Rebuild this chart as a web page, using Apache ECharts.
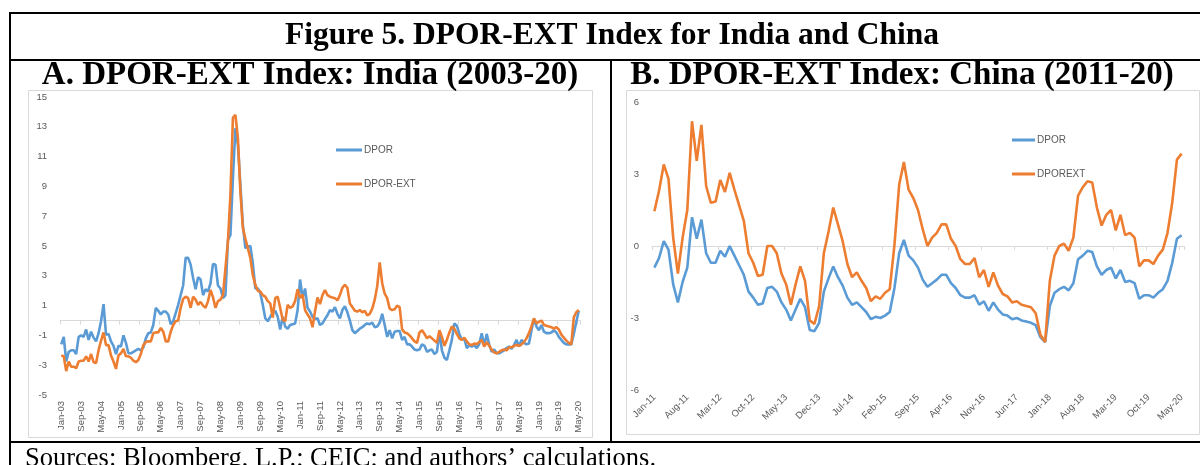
<!DOCTYPE html>
<html style="height: 100%">
<head>
<meta charset="utf-8">
<script src="https://cdn.jsdelivr.net/npm/echarts@6/dist/echarts.min.js"></script>
</head>
<body style="height: 100%; margin: 0; background: #fff">
<div id="container" style="width: 1200px; height: 465px"></div>
<script type="text/javascript">
var MONTHS = ['Jan','Feb','Mar','Apr','May','Jun','Jul','Aug','Sep','Oct','Nov','Dec'];

// India, monthly Jan-03 .. May-20
var indiaDpor = [
  -1.6,-1.1,-2.75,-2.1,-2.0,-2.0,-2.25,-1.1,-1.0,-1.1,-0.6,-1.3,
  -0.75,-1.15,-1.4,-0.85,-0.05,1.1,-0.95,-0.9,-1.4,-1.7,-2.25,-1.7,
  -1.75,-1.0,-1.5,-2.2,-2.2,-2.1,-2.0,-1.9,-2.0,-1.8,-1.2,-0.85,
  -0.8,-0.3,0.85,0.65,0.4,0.6,0.6,0.4,-0.25,-0.05,0.5,1.05,
  1.7,2.35,4.2,4.2,3.75,2.85,2.1,2.9,2.75,1.7,2.1,1.95,
  2.5,3.8,3.75,2.35,2.15,1.5,1.7,5.4,5.75,9.55,12.9,11.8,
  9.1,6.4,4.85,4.95,5.0,3.85,2.15,2.15,1.85,1.05,0.15,-0.05,
  0.25,0.5,0.65,0.25,-0.6,0.25,-0.4,-0.55,-0.3,-0.25,-0.2,0.7,
  2.75,1.5,2.15,0.85,0.6,0.25,0.1,0.15,-0.3,-0.2,0.1,0.35,
  0.7,0.6,0.9,0.45,0.15,0.7,0.95,0.55,0.0,-0.65,-0.85,-0.7,
  -0.55,-0.45,-0.3,-0.2,-0.25,-0.15,-0.45,-0.4,-0.15,0.45,-0.3,-1.1,
  -0.65,-1.2,-0.75,-0.7,-0.7,-1.3,-1.1,-1.6,-1.6,-1.75,-1.95,-2.0,
  -1.95,-1.6,-1.7,-2.1,-2.0,-1.95,-2.25,-2.1,-0.8,-2.0,-2.5,-2.65,
  -2.0,-1.3,-0.2,-0.35,-0.9,-1.3,-1.2,-1.85,-1.65,-1.75,-1.65,-1.85,
  -1.6,-0.85,-1.7,-0.9,-1.6,-2.1,-1.95,-2.2,-2.2,-2.1,-2.0,-1.85,
  -1.75,-1.9,-1.65,-1.3,-1.75,-1.3,-1.5,-1.6,-1.55,-0.65,0.1,-0.4,
  -0.65,-0.3,-0.75,-0.85,-0.85,-0.8,-0.65,-0.8,-1.1,-1.3,-1.5,-1.6,
  -1.6,-1.6,-0.9,-0.1,0.65
];
var indiaDporExt = [
  -2.35,-2.4,-3.4,-2.75,-3.1,-3.1,-3.2,-2.75,-2.7,-2.7,-2.4,-2.75,
  -2.25,-2.8,-2.85,-2.0,-1.35,-0.8,-1.65,-1.65,-2.35,-2.75,-3.25,-2.35,
  -2.2,-1.9,-2.4,-2.4,-2.5,-2.7,-2.8,-2.65,-2.25,-1.65,-1.45,-1.4,
  -1.4,-0.85,-0.8,-0.8,-0.5,-0.75,-1.4,-1.4,-0.75,-0.3,-0.05,0.0,
  0.85,1.45,1.6,1.5,0.85,1.6,1.4,1.05,1.25,1.0,0.85,1.3,
  2.05,1.55,0.85,1.3,1.4,1.7,3.5,5.3,8.45,13.6,13.8,12.25,
  8.65,6.2,5.5,4.85,4.2,3.05,2.4,2.0,1.95,1.7,1.6,1.3,
  1.15,0.2,1.5,1.6,0.85,0.05,-0.05,1.05,0.85,0.95,1.3,2.1,
  1.5,1.75,0.7,0.4,0.15,-0.45,0.6,1.55,1.1,1.7,2.05,1.7,
  1.6,1.55,1.5,1.35,1.7,2.2,2.4,2.2,1.15,0.9,0.65,0.6,
  0.7,0.55,0.65,0.35,0.45,0.8,1.4,2.3,3.9,2.5,1.8,1.5,
  0.8,0.7,0.75,1.0,0.9,-0.6,-0.8,-0.85,-1.0,-1.2,-1.4,-1.5,
  -0.8,-0.65,-0.9,-1.2,-1.05,-1.2,-1.35,-1.5,-0.65,-1.1,-1.7,-1.3,
  -0.8,-0.4,-0.55,-0.9,-1.2,-1.3,-1.15,-1.4,-1.6,-1.65,-1.55,-1.6,
  -1.45,-1.3,-1.75,-1.45,-1.7,-1.95,-2.15,-2.2,-2.1,-2.0,-1.95,-2.0,
  -1.8,-1.8,-1.7,-1.65,-1.7,-1.6,-1.45,-1.2,-0.85,-0.4,0.15,-0.2,
  -0.1,0.0,-0.3,-0.35,-0.4,-0.45,-0.55,-0.45,-0.6,-0.95,-1.15,-1.35,
  -1.5,-1.6,0.2,0.55,0.7
];

// China, monthly Jan-11 .. May-20
var chinaDpor = [
  -0.9,-0.5,0.2,-0.15,-1.6,-2.35,-1.5,-0.9,1.2,0.3,1.1,-0.3,
  -0.7,-0.7,-0.2,-0.45,0.0,-0.4,-0.8,-1.2,-1.9,-2.15,-2.45,-2.4,
  -1.75,-1.7,-1.9,-2.35,-2.65,-3.1,-2.65,-2.2,-2.55,-3.5,-3.55,-3.2,
  -1.9,-1.35,-0.85,-1.3,-1.65,-2.15,-2.45,-2.35,-2.55,-2.75,-3.05,-2.95,
  -3.0,-2.9,-2.75,-1.75,-0.3,0.25,-0.4,-0.6,-0.9,-1.4,-1.7,-1.55,
  -1.4,-1.2,-1.2,-1.55,-1.75,-2.05,-2.15,-2.15,-2.05,-2.45,-2.3,-2.7,
  -2.35,-2.65,-2.85,-2.9,-3.05,-3.0,-3.1,-3.15,-3.2,-3.3,-3.8,-4.0,
  -2.5,-1.95,-1.8,-1.7,-1.85,-1.55,-0.55,-0.4,-0.2,-0.25,-0.85,-1.2,
  -1.0,-0.9,-1.35,-1.0,-1.5,-1.45,-1.55,-2.2,-2.05,-2.05,-2.15,-1.95,
  -1.8,-1.45,-0.7,0.3,0.45
];
var chinaDporExt = [
  1.45,2.3,3.4,2.8,0.35,-1.15,0.35,1.5,5.2,3.55,5.05,2.5,
  1.8,1.85,2.75,2.25,3.05,2.35,1.7,1.05,-0.3,-0.7,-1.25,-1.2,
  0.0,0.0,-0.3,-1.15,-1.6,-2.45,-1.6,-0.85,-1.45,-3.1,-3.25,-2.5,
  -0.3,0.6,1.6,0.9,0.2,-0.75,-1.3,-1.1,-1.45,-1.75,-2.3,-2.1,
  -2.2,-1.95,-1.8,0.05,2.55,3.5,2.35,2.0,1.5,0.7,0.0,0.35,
  0.55,0.9,0.9,0.3,0.0,-0.55,-0.75,-0.75,-0.5,-1.3,-1.0,-1.7,
  -1.1,-1.65,-2.0,-2.1,-2.35,-2.3,-2.45,-2.5,-2.55,-2.8,-3.7,-4.0,
  -1.45,-0.4,0.0,0.1,-0.2,0.35,2.1,2.45,2.7,2.65,1.6,0.85,
  1.3,1.5,0.65,1.3,0.45,0.55,0.35,-0.85,-0.6,-0.6,-0.75,-0.4,
  -0.15,0.55,1.8,3.6,3.85
];

var indiaYTicks = {min: -5, max: 15, interval: 2};
var chinaYTicks = {min: -6, max: 6, interval: 3};

function monthLabels(startYear, count) {
  var out = [];
  for (var i = 0; i < count; i++) {
    var y = startYear + Math.floor(i / 12);
    out.push(MONTHS[i % 12] + '-' + String(y % 100).padStart(2, '0'));
  }
  return out;
}
var indiaCats = monthLabels(2003, indiaDpor.length);
var chinaCats = monthLabels(2011, chinaDpor.length);

var BLUE = '#5B9BD5', ORANGE = '#ED7D31', GREY = '#595959', FRAME = '#d9d9d9';
var SERIF = '"Liberation Serif", "Times New Roman", serif';
var SANS = '"Liberation Sans", Arial, sans-serif';

function labelAxis(grid, cats, every, rotate) {
  return {
    type: 'category', gridIndex: grid, data: cats, position: 'bottom',
    axisLine: {show: false, onZero: false}, axisTick: {show: false},
    axisLabel: {interval: every - 1, rotate: rotate, color: GREY, fontSize: 9.5,
                fontFamily: SANS, margin: 6}
  };
}
function zeroAxis(grid, cats, every) {
  return {
    type: 'category', gridIndex: grid, data: cats, position: 'bottom',
    axisLine: {show: true, onZero: true, lineStyle: {color: FRAME, width: 1}},
    axisTick: {show: true, interval: every - 1, length: 4, lineStyle: {color: FRAME}},
    axisLabel: {show: false}
  };
}
function valueAxis(grid, t) {
  return {
    type: 'value', gridIndex: grid, min: t.min, max: t.max, interval: t.interval,
    axisLine: {show: false}, axisTick: {show: false}, splitLine: {show: false},
    axisLabel: {color: GREY, fontSize: 9.5, fontFamily: SANS, margin: 13}
  };
}
function lineSeries(name, data, color, xi, yi) {
  return {
    name: name, type: 'line', data: data, xAxisIndex: xi, yAxisIndex: yi,
    showSymbol: false, symbol: 'none', color: color,
    lineStyle: {width: 2.6, color: color}, itemStyle: {color: color}
  };
}

var chart = echarts.init(document.getElementById('container'), null, {renderer: 'canvas'});
var option = {
  animation: false,
  backgroundColor: '#fff',
  grid: [
    {left: 60, top: 97, width: 520, height: 298, outerBoundsMode: 'none'},
    {left: 652, top: 102, width: 532, height: 288, outerBoundsMode: 'none'}
  ],
  xAxis: [
    labelAxis(0, indiaCats, 8, 90),
    zeroAxis(0, indiaCats, 8),
    labelAxis(1, chinaCats, 7, 45),
    zeroAxis(1, chinaCats, 7)
  ],
  yAxis: [valueAxis(0, indiaYTicks), valueAxis(1, chinaYTicks)],
  legend: [
    {data: ['DPOR', 'DPOR-EXT'], orient: 'vertical', left: 331, top: 140,
     icon: 'rect', itemWidth: 26, itemHeight: 3, itemGap: 24, selectedMode: false,
     textStyle: {color: GREY, fontSize: 10, fontFamily: SANS, padding: [0, 0, 0, -3]}},
    {data: ['DPOR', 'DPOREXT'], orient: 'vertical', left: 1007, top: 130,
     icon: 'rect', itemWidth: 23, itemHeight: 3, itemGap: 24, selectedMode: false,
     textStyle: {color: GREY, fontSize: 10, fontFamily: SANS, padding: [0, 0, 0, -3]}}
  ],
  series: [
    lineSeries('DPOR', indiaDpor, BLUE, 0, 0),
    lineSeries('DPOR-EXT', indiaDporExt, ORANGE, 0, 0),
    lineSeries('DPOR', chinaDpor, BLUE, 2, 1),
    lineSeries('DPOREXT', chinaDporExt, ORANGE, 2, 1)
  ],
  graphic: [
    // chart area borders
    {type: 'rect', shape: {x: 28.5, y: 90.5, width: 564, height: 347}, style: {fill: null, stroke: FRAME, lineWidth: 1}, silent: true},
    {type: 'rect', shape: {x: 626.5, y: 90.5, width: 573, height: 344}, style: {fill: null, stroke: FRAME, lineWidth: 1}, silent: true},
    // black frame
    {type: 'line', shape: {x1: 9, y1: 13, x2: 1200, y2: 13}, style: {stroke: '#000', lineWidth: 2}, silent: true},
    {type: 'line', shape: {x1: 9, y1: 60, x2: 1200, y2: 60}, style: {stroke: '#000', lineWidth: 2}, silent: true},
    {type: 'line', shape: {x1: 10, y1: 12, x2: 10, y2: 465}, style: {stroke: '#000', lineWidth: 2}, silent: true},
    {type: 'line', shape: {x1: 611, y1: 60, x2: 611, y2: 442}, style: {stroke: '#000', lineWidth: 2}, silent: true},
    {type: 'line', shape: {x1: 9, y1: 442, x2: 1200, y2: 442}, style: {stroke: '#000', lineWidth: 2}, silent: true},
    // texts
    {type: 'text', x: 612, y: 36, silent: true,
     style: {text: 'Figure 5. DPOR-EXT Index for India and China', fill: '#000', fontSize: 31.5,
             fontWeight: 'bold', fontFamily: SERIF, textAlign: 'center', textVerticalAlign: 'middle'}},
    {type: 'text', x: 310, y: 75, silent: true,
     style: {text: 'A. DPOR-EXT Index: India (2003-20)', fill: '#000', fontSize: 33,
             fontWeight: 'bold', fontFamily: SERIF, textAlign: 'center', textVerticalAlign: 'middle'}},
    {type: 'text', x: 902, y: 75, silent: true,
     style: {text: 'B. DPOR-EXT Index: China (2011-20)', fill: '#000', fontSize: 33,
             fontWeight: 'bold', fontFamily: SERIF, textAlign: 'center', textVerticalAlign: 'middle'}},
    {type: 'text', x: 25, y: 459, silent: true,
     style: {text: 'Sources: Bloomberg, L.P.; CEIC; and authors\u2019 calculations.', fill: '#000', fontSize: 26.5,
             fontFamily: SERIF, textAlign: 'left', textVerticalAlign: 'middle'}}
  ]
};
chart.setOption(option);
</script>
</body>
</html>
